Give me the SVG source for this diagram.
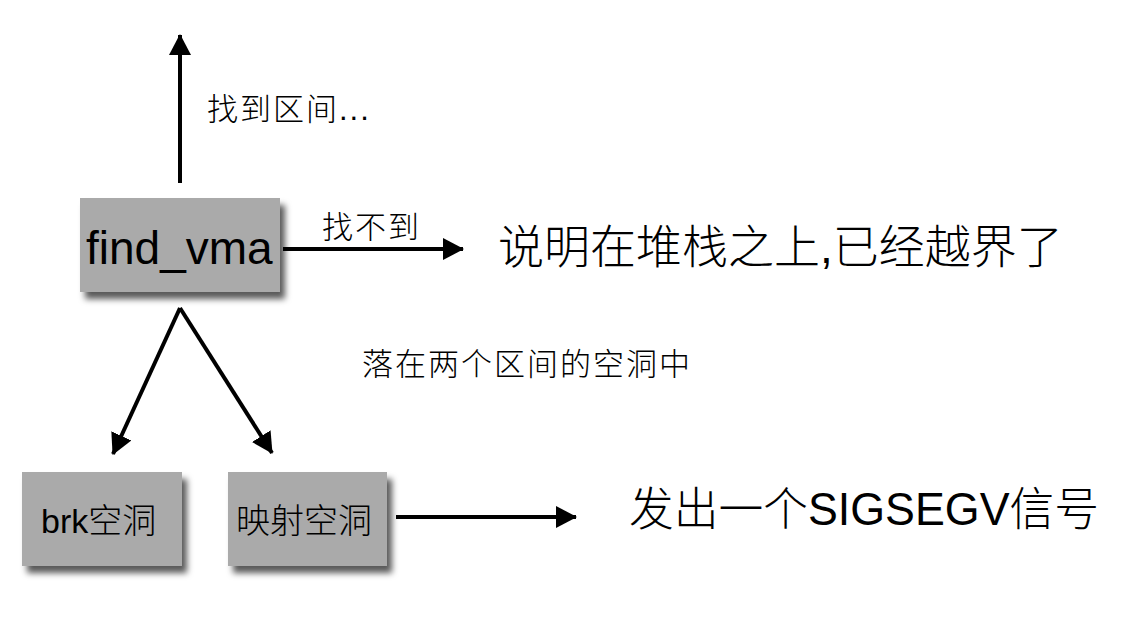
<svg xmlns="http://www.w3.org/2000/svg" width="1126" height="624" viewBox="0 0 1126 624">
  <style>
    text { font-family: "Liberation Sans", "Noto Sans CJK SC", sans-serif; font-weight: 300; fill: #000; }
    .box { fill: #aaaaaa; filter: url(#shadow); }
    .label { font-size: 31px; letter-spacing: 2px; }
    .big { font-size: 46px; }
    .node { font-size: 34px; }
    .edge { stroke: #000; stroke-width: 4; fill: none; marker-end: url(#arrow); }
  </style>
  <defs>
    <filter id="shadow" x="-20%" y="-20%" width="150%" height="160%">
      <feDropShadow dx="5" dy="7" stdDeviation="3" flood-color="#000" flood-opacity="0.65"/>
    </filter>
    <marker id="arrow" markerUnits="userSpaceOnUse" markerWidth="22" markerHeight="24" refX="20" refY="11" orient="auto">
      <path d="M0,0 L21,11 L0,22 Z" fill="#000"/>
    </marker>
  </defs>

  <!-- connectors -->
  <g id="connectors">
    <line class="edge" x1="180" y1="183" x2="180" y2="35"/>
    <line class="edge" x1="283" y1="249" x2="463" y2="249"/>
    <line class="edge" x1="180" y1="308" x2="113" y2="454"/>
    <line class="edge" x1="180" y1="308" x2="272" y2="453"/>
    <line class="edge" x1="396" y1="517" x2="576" y2="517"/>
  </g>

  <!-- edge labels -->
  <g id="labels">
    <text class="label" x="207" y="120">找到区间...</text>
    <text class="label" x="322" y="238">找不到</text>
    <text class="label" x="362" y="375">落在两个区间的空洞中</text>
  </g>

  <g id="node-find-vma">
    <rect class="box" x="80" y="198" width="200" height="94"/>
    <text x="86" y="264" style="font-size:46px">find_vma</text>
  </g>

  <g id="node-brk-hole">
    <rect class="box" x="22" y="472" width="160" height="94"/>
    <text class="node" x="41" y="533">brk空洞</text>
  </g>

  <g id="node-mmap-hole">
    <rect class="box" x="228" y="472" width="159" height="94"/>
    <text class="node" x="236" y="533">映射空洞</text>
  </g>

  <g id="node-overflow">
    <text class="big" x="498" y="263">说明在堆栈之上,已经越界了</text>
  </g>

  <g id="node-sigsegv">
    <text class="big" x="629" y="525" textLength="470" lengthAdjust="spacingAndGlyphs">发出一个SIGSEGV信号</text>
  </g>
</svg>
